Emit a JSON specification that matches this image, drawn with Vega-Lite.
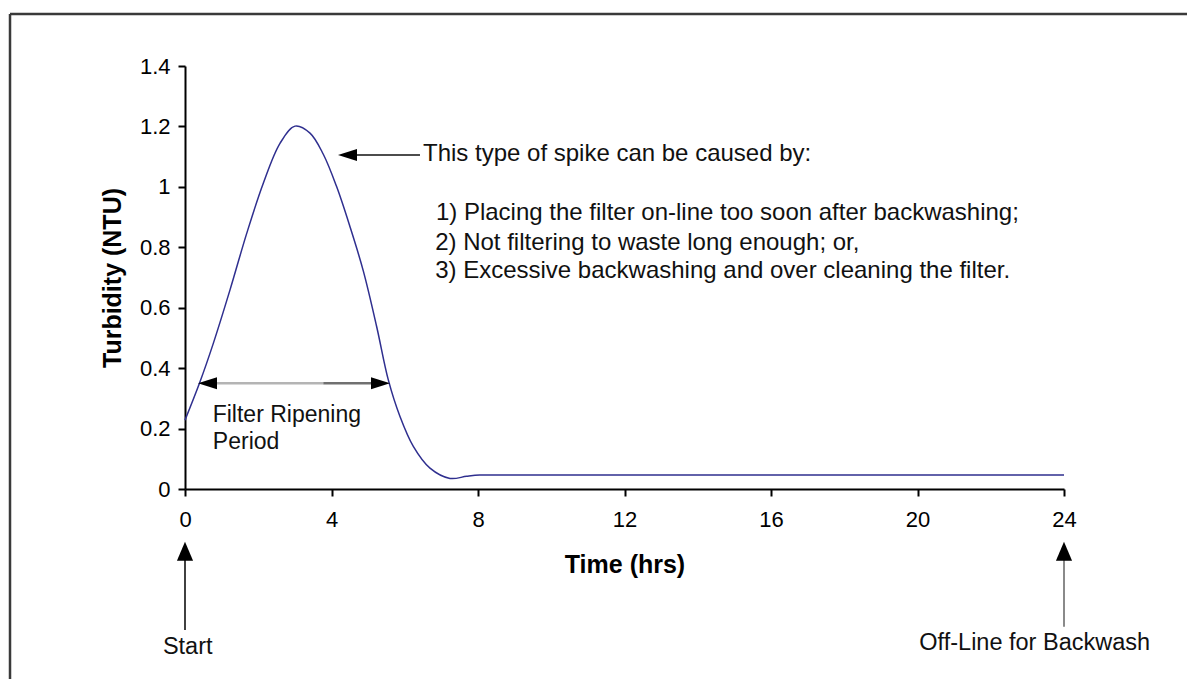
{
  "$schema": "https://vega.github.io/schema/vega-lite/v6.json",
  "autosize": "none",
  "width": 879,
  "height": 423,
  "padding": {"left": 185, "top": 66, "right": 123, "bottom": 190},
  "background": "white",
  "config": {"view": {"stroke": null}, "font": "Liberation Sans"},
  "datasets": {
    "curve": [
      {"x": 0, "y": 0.228},
      {"x": 0.41, "y": 0.355},
      {"x": 0.773, "y": 0.482},
      {"x": 1.229, "y": 0.659},
      {"x": 1.685, "y": 0.846},
      {"x": 2.138, "y": 1.012},
      {"x": 2.594, "y": 1.144},
      {"x": 3.003, "y": 1.201},
      {"x": 3.413, "y": 1.178},
      {"x": 3.776, "y": 1.108},
      {"x": 4.142, "y": 1.0},
      {"x": 4.505, "y": 0.868},
      {"x": 4.868, "y": 0.722},
      {"x": 5.234, "y": 0.537},
      {"x": 5.551, "y": 0.361},
      {"x": 5.87, "y": 0.24},
      {"x": 6.234, "y": 0.141},
      {"x": 6.689, "y": 0.069},
      {"x": 7.235, "y": 0.035},
      {"x": 7.69, "y": 0.042},
      {"x": 8.05, "y": 0.046},
      {"x": 8.6, "y": 0.046},
      {"x": 9.5, "y": 0.046},
      {"x": 12, "y": 0.046},
      {"x": 16, "y": 0.046},
      {"x": 20, "y": 0.046},
      {"x": 24, "y": 0.046}
    ],
    "segs": [
      {"group": "frame", "x": -4.778, "x2": 27.5, "y": 1.5721, "y2": 1.5721},
      {"group": "frame", "x": -4.778, "x2": -4.778, "y": 1.5721, "y2": -0.7},
      {"group": "black", "x": 4.69, "x2": 6.416, "y": 1.1054, "y2": 1.1054},
      {"group": "black", "x": 0, "x2": 0, "y": -0.235, "y2": -0.4667},
      {"group": "light", "x": 0.866, "x2": 3.776, "y": 0.3498, "y2": 0.3498},
      {"group": "dark", "x": 3.776, "x2": 5.098, "y": 0.3498, "y2": 0.3498},
      {"group": "mid", "x": 24, "x2": 24, "y": -0.2335, "y2": -0.456}
    ],
    "heads": [
      {"dir": "left", "x": 4.437, "y": 1.1054},
      {"dir": "left", "x": 0.614, "y": 0.3498},
      {"dir": "right", "x": 5.338, "y": 0.3498},
      {"dir": "up", "x": 0, "y": -0.2059},
      {"dir": "up", "x": 24, "y": -0.2059}
    ],
    "notes": [
      {"block": "causes", "x": 6.498, "y": 1.108, "label": "This type of spike can be caused by:"},
      {"block": "causes", "x": 6.85, "y": 0.9135, "label": "1) Placing the filter on-line too soon after backwashing;"},
      {"block": "causes", "x": 6.83, "y": 0.8142, "label": "2) Not filtering to waste long enough; or,"},
      {"block": "causes", "x": 6.83, "y": 0.7205, "label": "3) Excessive backwashing and over cleaning the filter."},
      {"block": "ripening", "x": 0.756, "y": 0.2462, "label": "Filter Ripening"},
      {"block": "ripening", "x": 0.76, "y": 0.1552, "label": "Period"},
      {"block": "below", "x": 0.074, "y": -0.5213, "label": "Start"},
      {"block": "below", "x": 23.2, "y": -0.5107, "label": "Off-Line for Backwash"}
    ]
  },
  "encoding": {
    "x": {
      "field": "x", "type": "quantitative",
      "scale": {"domain": [0, 24], "nice": false, "zero": false},
      "axis": {
        "title": "Time (hrs)",
        "values": [0, 4, 8, 12, 16, 20, 24],
        "grid": false,
        "domainColor": "black", "domainWidth": 2,
        "tickColor": "black", "tickWidth": 2, "tickSize": 7,
        "labelFont": "Liberation Sans", "labelFontSize": 22, "labelColor": "black",
        "labelPadding": 13, "labelFlush": false,
        "titleFont": "Liberation Sans", "titleFontSize": 25, "titleFontWeight": "bold", "titleColor": "black",
        "titleX": 439.5, "titleY": 75, "titleAlign": "center", "titleBaseline": "middle"
      }
    },
    "y": {
      "field": "y", "type": "quantitative",
      "scale": {"domain": [0, 1.4], "nice": false, "zero": false},
      "axis": {
        "title": "Turbidity (NTU)",
        "values": [0, 0.2, 0.4, 0.6, 0.8, 1, 1.2, 1.4],
        "format": ".1~f",
        "grid": false,
        "domainColor": "black", "domainWidth": 2,
        "tickColor": "black", "tickWidth": 2, "tickSize": 7,
        "labelFont": "Liberation Sans", "labelFontSize": 22, "labelColor": "black",
        "labelPadding": 8, "labelFlush": false,
        "titleFont": "Liberation Sans", "titleFontSize": 25, "titleFontWeight": "bold", "titleColor": "black",
        "titleX": -72.5, "titleY": 211.5, "titleAngle": -90, "titleAlign": "center", "titleBaseline": "middle"
      }
    }
  },
  "layer": [
    {
      "data": {"name": "segs"},
      "transform": [{"filter": "datum.group === 'frame'"}],
      "mark": {"type": "rule", "clip": false, "color": "#3a3a3a", "strokeWidth": 2.5},
      "encoding": {"x2": {"field": "x2"}, "y2": {"field": "y2"}}
    },
    {
      "data": {"name": "segs"},
      "transform": [{"filter": "datum.group === 'black'"}],
      "mark": {"type": "rule", "clip": false, "color": "#111111", "strokeWidth": 1.6},
      "encoding": {"x2": {"field": "x2"}, "y2": {"field": "y2"}}
    },
    {
      "data": {"name": "segs"},
      "transform": [{"filter": "datum.group === 'light'"}],
      "mark": {"type": "rule", "clip": false, "color": "#b4b4b4", "strokeWidth": 2.5},
      "encoding": {"x2": {"field": "x2"}, "y2": {"field": "y2"}}
    },
    {
      "data": {"name": "segs"},
      "transform": [{"filter": "datum.group === 'dark'"}],
      "mark": {"type": "rule", "clip": false, "color": "#707070", "strokeWidth": 2.5},
      "encoding": {"x2": {"field": "x2"}, "y2": {"field": "y2"}}
    },
    {
      "data": {"name": "segs"},
      "transform": [{"filter": "datum.group === 'mid'"}],
      "mark": {"type": "rule", "clip": false, "color": "#8a8a8a", "strokeWidth": 2},
      "encoding": {"x2": {"field": "x2"}, "y2": {"field": "y2"}}
    },
    {
      "data": {"name": "curve"},
      "mark": {"type": "line", "interpolate": "catmull-rom", "color": "#2f2f8f", "strokeWidth": 1.5, "clip": false},
      "encoding": {}
    },
    {
      "data": {"name": "heads"},
      "transform": [{"filter": "datum.dir === 'left'"}],
      "mark": {"type": "point", "clip": false, "filled": true, "color": "black", "opacity": 1, "size": 361, "shape": "M-1,0L1,-0.63L1,0.63Z"},
      "encoding": {}
    },
    {
      "data": {"name": "heads"},
      "transform": [{"filter": "datum.dir === 'right'"}],
      "mark": {"type": "point", "clip": false, "filled": true, "color": "black", "opacity": 1, "size": 361, "shape": "M1,0L-1,-0.63L-1,0.63Z"},
      "encoding": {}
    },
    {
      "data": {"name": "heads"},
      "transform": [{"filter": "datum.dir === 'up'"}],
      "mark": {"type": "point", "clip": false, "filled": true, "color": "black", "opacity": 1, "size": 361, "shape": "M0,-1L0.85,1L-0.85,1Z"},
      "encoding": {}
    },
    {
      "data": {"name": "notes"},
      "transform": [{"filter": "datum.block === 'causes'"}],
      "mark": {"type": "text", "clip": false, "align": "left", "baseline": "middle", "font": "Liberation Sans", "fontSize": 24, "color": "#111111"},
      "encoding": {"text": {"field": "label"}}
    },
    {
      "data": {"name": "notes"},
      "transform": [{"filter": "datum.block === 'ripening'"}],
      "mark": {"type": "text", "clip": false, "align": "left", "baseline": "middle", "font": "Liberation Sans", "fontSize": 23, "color": "#111111"},
      "encoding": {"text": {"field": "label"}}
    },
    {
      "data": {"name": "notes"},
      "transform": [{"filter": "datum.block === 'below'"}],
      "mark": {"type": "text", "clip": false, "align": "center", "baseline": "middle", "font": "Liberation Sans", "fontSize": 23.5, "color": "#111111"},
      "encoding": {"text": {"field": "label"}}
    }
  ]
}
